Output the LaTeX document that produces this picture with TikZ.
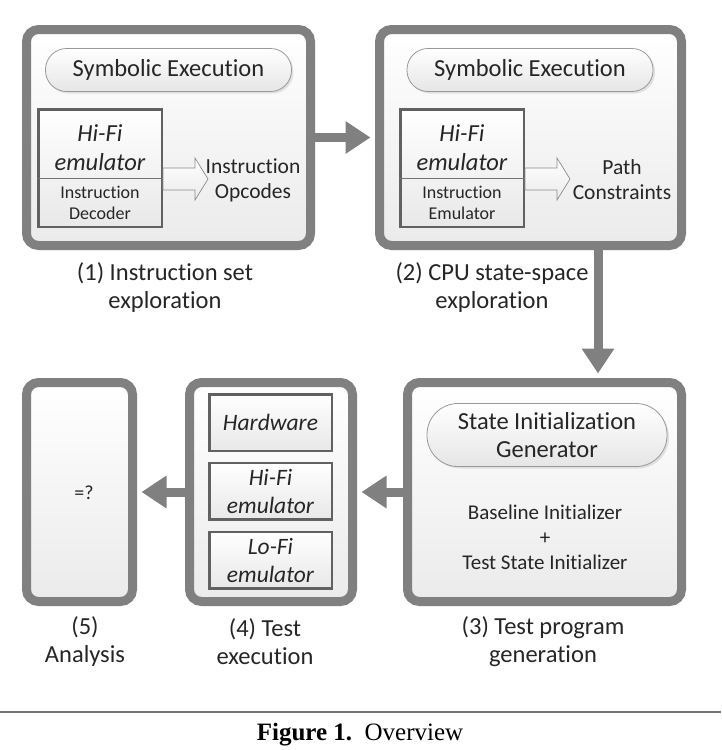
\documentclass[tikz,border=0pt]{standalone}
\usepackage{fontspec}
\setmainfont{Carlito}[Ligatures=NoCommon]
\newfontfamily\capfont{Liberation Serif}
\usetikzlibrary{arrows.meta,shadows,calc}
\definecolor{bordergray}{HTML}{808080}
\definecolor{txt}{HTML}{262626}
\tikzset{
  bigbox/.style={draw=bordergray, line width=9pt, rounded corners=12pt,
    top color=white, bottom color=black!8,
    drop shadow={shadow xshift=3pt, shadow yshift=-3pt, opacity=0.3, fill=black!30}},
  pill/.style={draw=black!40, line width=0.8pt, top color=white, bottom color=black!10,
    text=txt, inner sep=0pt, align=center,
    drop shadow={shadow xshift=2pt, shadow yshift=-2pt, opacity=0.25, fill=black!40}},
  inbox/.style={draw=black!62, line width=2.5pt, top color=white, bottom color=black!9,
    text=txt, inner sep=0pt, align=center},
  garrow/.style={draw=bordergray, line width=9pt, -{Triangle[length=25pt,width=31pt]}, shorten >=4.5pt},
  hollow/.style={draw=black!45, line width=0.7pt, top color=white, bottom color=black!8},
  lbl/.style={text=txt, align=center, inner sep=0pt},
  bigf/.style={font=\fontsize{24.5}{28}\selectfont},
  capf/.style={font=\fontsize{24.5}{28}\selectfont},
}
\begin{document}
\begin{tikzpicture}[x=1pt,y=-1pt]
\useasboundingbox (0,0) rectangle (721,750);
\fill[white] (0,0) rectangle (721,750);

% main boxes
\node[bigbox, minimum width=284pt, minimum height=216pt] (box1) at (168.5,137.5) {};
\node[bigbox, minimum width=302pt, minimum height=216pt] (box2) at (530.5,137.5) {};
\node[bigbox, minimum width=274pt, minimum height=219pt] (box3) at (544.5,492) {};
\node[bigbox, minimum width=163pt, minimum height=219pt] (box4) at (271,492) {};
\node[bigbox, minimum width=106pt, minimum height=219pt] (box5) at (79.5,492) {};

% box 1 content
\node[pill, bigf, minimum width=246pt, minimum height=43pt, rounded corners=21pt] (se1) at (168.5,70) {Symbolic Execution};
\node[inbox, minimum width=123.5pt, minimum height=117.5pt] (hifi1) at (100,168) {};
\draw[black!55, line width=0.8pt] ([yshift=-10pt]hifi1.west) -- ([yshift=-10pt]hifi1.east);
\node[lbl, font=\fontsize{24.5}{29}\selectfont\itshape] (hifi1t) at (100,148) {Hi-Fi\\emulator};
\node[lbl, font=\fontsize{18}{21}\selectfont] (dec1) at (100,203) {Instruction\\Decoder};
\draw[hollow] (163,168) -- (195,168) -- (195,158) -- (208,179) -- (195,200) -- (195,190) -- (163,190) -- cycle;
\node[lbl, font=\fontsize{21.5}{25}\selectfont] (op1) at (253,180) {Instruction\\Opcodes};

% box 2 content
\node[pill, bigf, minimum width=246pt, minimum height=43pt, rounded corners=21pt] (se2) at (530,70) {Symbolic Execution};
\node[inbox, minimum width=123.5pt, minimum height=117.5pt] (hifi2) at (462,168) {};
\draw[black!55, line width=0.8pt] ([yshift=-10pt]hifi2.west) -- ([yshift=-10pt]hifi2.east);
\node[lbl, font=\fontsize{24.5}{29}\selectfont\itshape] (hifi2t) at (462,148) {Hi-Fi\\emulator};
\node[lbl, font=\fontsize{18}{21}\selectfont] (emu2) at (462,203) {Instruction\\Emulator};
\draw[hollow] (525,168) -- (557,168) -- (557,158) -- (570,179) -- (557,200) -- (557,190) -- (525,190) -- cycle;
\node[lbl, font=\fontsize{21.5}{25}\selectfont] (pc2) at (622,180) {Path\\Constraints};

% box 3 content
\node[pill, bigf, minimum width=240pt, minimum height=63pt, rounded corners=31pt] (sig) at (547,435) {State Initialization\\Generator};
\node[lbl, font=\fontsize{21}{25}\selectfont] (init) at (545,537) {Baseline Initializer\\+\\Test State Initializer};

% box 4 content
\node[inbox, font=\fontsize{23.5}{28}\selectfont\itshape, minimum width=122.5pt, minimum height=56.5pt] (hw) at (270.5,422.5) {Hardware};
\node[inbox, font=\fontsize{23.5}{28}\selectfont\itshape, minimum width=122.5pt, minimum height=56.5pt] (hifi4) at (270.5,491) {Hi-Fi\\emulator};
\node[inbox, font=\fontsize{23.5}{28}\selectfont\itshape, minimum width=122.5pt, minimum height=56.5pt] (lofi4) at (270.5,560) {Lo-Fi\\emulator};

% box 5 content
\node[lbl, font=\fontsize{20}{24}\selectfont] (eq) at (84,493) {=?};

% connectors
\draw[garrow] (box1.east) -- (box2.west);
\draw[garrow] ([xshift=67.5pt]box2.south) -- ([xshift=53.5pt]box3.north);
\draw[garrow] (box3.west) -- (box4.east);
\draw[garrow] (box4.west) -- (box5.east);

% captions
\node[lbl, capf] (c1) at (165,288) {(1) Instruction set\\exploration};
\node[lbl, capf] (c2) at (492,288) {(2) CPU state-space\\exploration};
\node[lbl, capf] (c3) at (543,642) {(3) Test program\\generation};
\node[lbl, capf] (c4) at (265,642) {(4) Test\\execution};
\node[lbl, capf] (c5) at (85,642) {(5)\\Analysis};

% figure caption
\coordinate (sl) at (0,712);
\coordinate (sr) at (721,712);
\draw[black!55, line width=1.5pt] (sl) -- (sr);
\node[inner sep=0pt, font=\capfont\fontsize{25}{30}\selectfont] (fig) at (360,735) {\textbf{Figure 1.}\ \ Overview};
\end{tikzpicture}
\end{document}
